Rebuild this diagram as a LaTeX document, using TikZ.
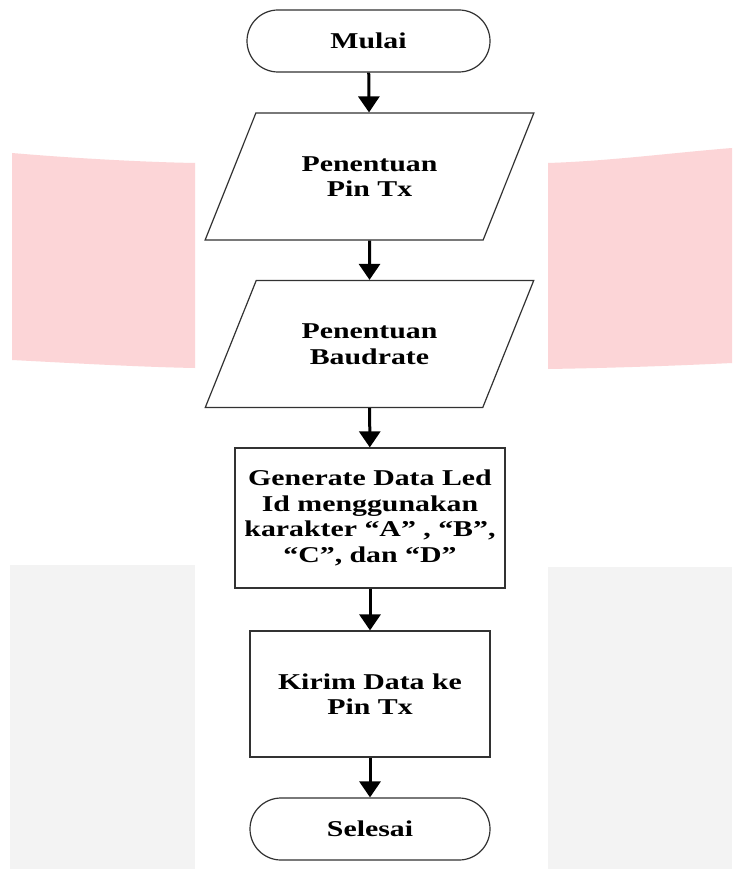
\documentclass[tikz,border=0pt]{standalone}
\usepackage{fontspec}
\setmainfont[FakeStretch=1.32]{Liberation Serif}
\usetikzlibrary{shapes.geometric,arrows.meta}
\definecolor{bgpink}{RGB}{252,213,215}
\definecolor{bggrey}{RGB}{243,243,243}
\definecolor{edgecol}{RGB}{50,50,50}
\begin{document}
\begin{tikzpicture}[x=1pt,y=-1pt,
  every node/.style={font=\fontsize{22.6}{25.5}\selectfont\bfseries, align=center, inner sep=0pt},
  term/.style={draw=edgecol, line width=1.2pt, rectangle, rounded corners=31pt, minimum width=243pt, minimum height=62pt},
  io/.style={draw=edgecol, line width=1.2pt, trapezium, trapezium left angle=53, trapezium right angle=127, trapezium stretches=true, minimum width=329pt, minimum height=127pt},
  proc/.style={draw=edgecol, line width=1.2pt, rectangle},
  flow/.style={-{Triangle[width=21pt,length=16pt]}, line width=3pt, black}]
\useasboundingbox (0,0) rectangle (732,869);
\fill[white] (0,0) rectangle (732,869);
% background bands
\fill[bgpink] (12,153) .. controls (70,158) and (140,162) .. (195,163) -- (195,368) .. controls (140,367) and (70,363) .. (12,360) -- cycle;
\fill[bgpink] (548,163) .. controls (610,161) and (670,153) .. (732,148) -- (732,363) .. controls (670,366) and (610,368) .. (548,369) -- cycle;
\fill[bggrey] (10,565) rectangle (195,869);
\fill[bggrey] (548,567) rectangle (732,869);
% nodes
\node[term] (mulai) at (368.5,41) {Mulai};
\node[io] (pin) at (369.5,176.5) {Penentuan\\Pin Tx};
\node[io] (baud) at (369.5,344) {Penentuan\\Baudrate};
\node[proc, minimum width=270pt, minimum height=140pt] (gen) at (370,518) {Generate Data Led\\Id menggunakan\\karakter “A” , “B”,\\“C”, dan “D”};
\node[proc, minimum width=240pt, minimum height=126pt] (kirim) at (370,694) {Kirim Data ke\\Pin Tx};
\node[term, minimum width=240pt] (selesai) at (370,829) {Selesai};
% connectors
\draw[flow] (mulai) -- (pin);
\draw[flow] (pin) -- (baud);
\draw[flow] (baud) -- (gen);
\draw[flow] (gen) -- (kirim);
\draw[flow] (kirim) -- (selesai);
\end{tikzpicture}
\end{document}
